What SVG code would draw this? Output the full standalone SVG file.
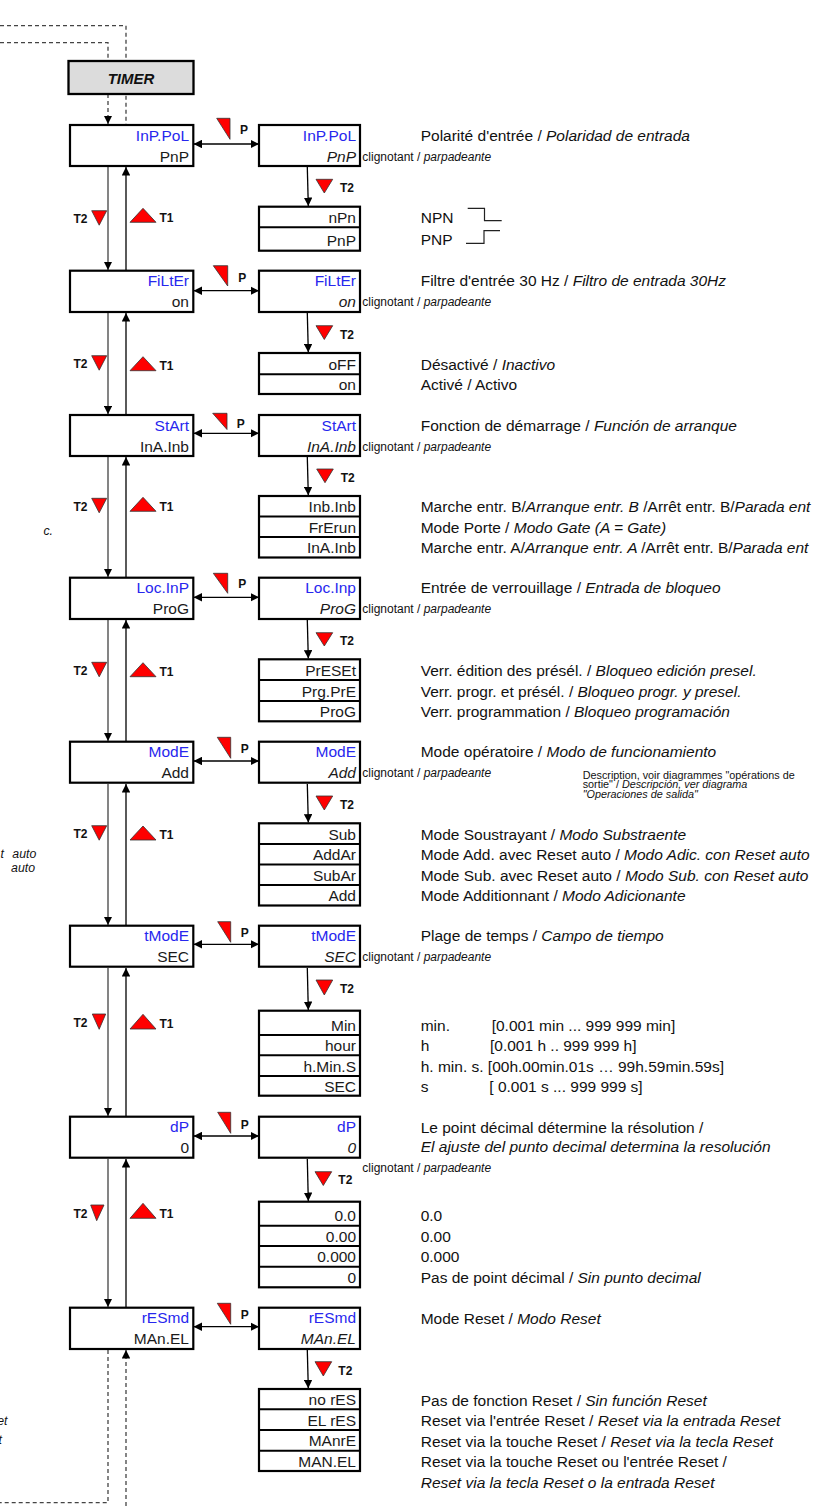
<svg xmlns="http://www.w3.org/2000/svg" width="823" height="1506" viewBox="0 0 823 1506">
<defs>
<marker id="ah" viewBox="0 0 10 10" refX="10" refY="5" markerWidth="8.5" markerHeight="8.5" markerUnits="userSpaceOnUse" orient="auto-start-reverse"><path d="M0,0 L10,5 L0,10 z" fill="#000"/></marker>
<style>
text{font-family:"Liberation Sans",Arial,Helvetica,sans-serif;}
.box{fill:#fff;stroke:#000;stroke-width:2.2;}
.div{stroke:#000;stroke-width:2;}
.lbl{font-size:15.5px;fill:#2727ee;text-anchor:end;}
.val{font-size:15.5px;fill:#1a1a1a;text-anchor:end;}
.it{font-style:italic;}
.desc{font-size:15.5px;fill:#111;}
.frag{font-size:12.3px;fill:#111;font-style:italic;}
.sm{font-size:12px;fill:#111;}
.xs{font-size:10.8px;fill:#111;}
.key{font-size:12px;font-weight:bold;fill:#111;}
.tri{fill:#ff0000;stroke:#333;stroke-width:0.8;stroke-linejoin:round;}
.dn{stroke:#505050;stroke-width:1.4;fill:none;}
.up{stroke:#000;stroke-width:1.3;fill:none;}
.hz{stroke:#000;stroke-width:1.3;fill:none;}
.dash{stroke:#444;stroke-width:1.3;stroke-dasharray:4 3;fill:none;}
.wave{stroke:#222;stroke-width:1.2;fill:none;}
</style>
</defs>
<rect width="823" height="1506" fill="#fff"/>

<g id="connectors">
<path class="dash" d="M0,25.7 H126 V124"/>
<path class="dash" d="M0,42.7 H108 V61"/>
<path class="dash" d="M108,94 V124" marker-end="url(#ah)"/>
<path class="dash" d="M108,1350 V1502.7 H0"/>
<path class="dash" d="M126,1506 V1350" marker-end="url(#ah)"/>

<line class="hz" x1="193.5" y1="144" x2="259" y2="144" marker-start="url(#ah)" marker-end="url(#ah)"/>
<line class="hz" x1="193.5" y1="290.7" x2="259" y2="290.7" marker-start="url(#ah)" marker-end="url(#ah)"/>
<line class="hz" x1="193.5" y1="433.3" x2="259" y2="433.3" marker-start="url(#ah)" marker-end="url(#ah)"/>
<line class="hz" x1="193.5" y1="597.3" x2="259" y2="597.3" marker-start="url(#ah)" marker-end="url(#ah)"/>
<line class="hz" x1="193.5" y1="761" x2="259" y2="761" marker-start="url(#ah)" marker-end="url(#ah)"/>
<line class="hz" x1="193.5" y1="944.3" x2="259" y2="944.3" marker-start="url(#ah)" marker-end="url(#ah)"/>
<line class="hz" x1="193.5" y1="1136" x2="259" y2="1136" marker-start="url(#ah)" marker-end="url(#ah)"/>
<line class="hz" x1="193.5" y1="1326.7" x2="259" y2="1326.7" marker-start="url(#ah)" marker-end="url(#ah)"/>

<polygon class="tri" points="216.7,118.3 230,118.3 230,139.3"/><text class="key" x="240" y="134.3">P</text>
<polygon class="tri" points="213.3,265.7 227.7,265.7 227.7,286"/><text class="key" x="238.3" y="281.7">P</text>
<polygon class="tri" points="212.7,413.3 227,413.3 227,429.5"/><text class="key" x="236.7" y="428">P</text>
<polygon class="tri" points="213.3,573.3 227.7,573.3 227.7,593.3"/><text class="key" x="238.3" y="588">P</text>
<polygon class="tri" points="217.3,737.3 230.7,737.3 230.7,758.3"/><text class="key" x="240.7" y="753.3">P</text>
<polygon class="tri" points="217.7,921.7 230.7,921.7 230.7,942.3"/><text class="key" x="240.7" y="936.7">P</text>
<polygon class="tri" points="217.7,1112.3 230.7,1112.3 230.7,1133.3"/><text class="key" x="240.7" y="1128.7">P</text>
<polygon class="tri" points="217.3,1303.3 230.7,1303.3 230.7,1324.3"/><text class="key" x="240.7" y="1319.3">P</text>

<line class="dn" x1="108" y1="167" x2="108" y2="270" marker-end="url(#ah)"/>
<line class="up" x1="126" y1="270" x2="126" y2="167" marker-end="url(#ah)"/>
<line class="dn" x1="108" y1="313" x2="108" y2="414.3" marker-end="url(#ah)"/>
<line class="up" x1="126" y1="414.3" x2="126" y2="313" marker-end="url(#ah)"/>
<line class="dn" x1="108" y1="457" x2="108" y2="577" marker-end="url(#ah)"/>
<line class="up" x1="126" y1="577" x2="126" y2="457" marker-end="url(#ah)"/>
<line class="dn" x1="108" y1="620" x2="108" y2="741" marker-end="url(#ah)"/>
<line class="up" x1="126" y1="741" x2="126" y2="620" marker-end="url(#ah)"/>
<line class="dn" x1="108" y1="784" x2="108" y2="925" marker-end="url(#ah)"/>
<line class="up" x1="126" y1="925" x2="126" y2="784" marker-end="url(#ah)"/>
<line class="dn" x1="108" y1="968" x2="108" y2="1116" marker-end="url(#ah)"/>
<line class="up" x1="126" y1="1116" x2="126" y2="968" marker-end="url(#ah)"/>
<line class="dn" x1="108" y1="1159" x2="108" y2="1307" marker-end="url(#ah)"/>
<line class="up" x1="126" y1="1307" x2="126" y2="1159" marker-end="url(#ah)"/>

<polygon class="tri" points="91.7,210.7 106.7,210.7 99.2,225.2"/><text class="key" x="87.5" y="223.3" text-anchor="end">T2</text>
<polygon class="tri" points="130,222.3 156,222.3 143,208.3"/><text class="key" x="159.5" y="221.7">T1</text>
<polygon class="tri" points="91.7,355.7 106.7,355.7 99.2,370.2"/><text class="key" x="87.5" y="368.2" text-anchor="end">T2</text>
<polygon class="tri" points="130,370.7 156,370.7 143,356.7"/><text class="key" x="159.5" y="370">T1</text>
<polygon class="tri" points="91.7,498.3 106.7,498.3 99.2,512.8"/><text class="key" x="87.5" y="510.8" text-anchor="end">T2</text>
<polygon class="tri" points="130,511.3 156,511.3 143,497.3"/><text class="key" x="159.5" y="510.6">T1</text>
<polygon class="tri" points="91.7,662.3 106.7,662.3 99.2,676.8"/><text class="key" x="87.5" y="674.8" text-anchor="end">T2</text>
<polygon class="tri" points="130,676.7 156,676.7 143,662.7"/><text class="key" x="159.5" y="676">T1</text>
<polygon class="tri" points="91.7,825.7 106.7,825.7 99.2,840.2"/><text class="key" x="87.5" y="838.2" text-anchor="end">T2</text>
<polygon class="tri" points="130,840 156,840 143,826"/><text class="key" x="159.5" y="839.3">T1</text>
<polygon class="tri" points="92.3,1014 105.7,1014 99.2,1029.3"/><text class="key" x="87.5" y="1026.5" text-anchor="end">T2</text>
<polygon class="tri" points="130,1029 156,1029 143,1014.3"/><text class="key" x="159.5" y="1028.3">T1</text>
<polygon class="tri" points="90.7,1205 104,1205 96.7,1220.7"/><text class="key" x="87.5" y="1217.5" text-anchor="end">T2</text>
<polygon class="tri" points="130,1218.3 156,1218.3 143,1203.3"/><text class="key" x="159.5" y="1217.6">T1</text>

<line class="hz" x1="307.3" y1="167" x2="308.3" y2="206" marker-end="url(#ah)"/>
<line class="hz" x1="307.3" y1="313" x2="308.3" y2="352.3" marker-end="url(#ah)"/>
<line class="hz" x1="307.3" y1="457" x2="308.3" y2="495.3" marker-end="url(#ah)"/>
<line class="hz" x1="307.3" y1="620" x2="308.3" y2="658.6" marker-end="url(#ah)"/>
<line class="hz" x1="307.3" y1="784" x2="308.3" y2="822.6" marker-end="url(#ah)"/>
<line class="hz" x1="307.3" y1="968" x2="308.3" y2="1010" marker-end="url(#ah)"/>
<line class="hz" x1="307.3" y1="1159" x2="308.3" y2="1201" marker-end="url(#ah)"/>
<line class="hz" x1="307.3" y1="1350" x2="308.3" y2="1388.3" marker-end="url(#ah)"/>

<polygon class="tri" points="316,179.3 332.7,179.3 324.3,193"/><text class="key" x="340" y="191.7">T2</text>
<polygon class="tri" points="316,325.7 332.7,325.7 324.3,339.5"/><text class="key" x="340" y="339">T2</text>
<polygon class="tri" points="316.7,469 333.3,469 325,482.7"/><text class="key" x="340.7" y="481.5">T2</text>
<polygon class="tri" points="316,632.7 332.7,632.7 324.3,646"/><text class="key" x="340" y="645">T2</text>
<polygon class="tri" points="316,796 332.7,796 324.3,810"/><text class="key" x="340" y="808.5">T2</text>
<polygon class="tri" points="316,980 332.7,980 324.3,995"/><text class="key" x="340" y="992.5">T2</text>
<polygon class="tri" points="315,1171.7 331.7,1171.7 323.3,1185.5"/><text class="key" x="338.3" y="1184">T2</text>
<polygon class="tri" points="315,1361.7 331.7,1361.7 323.3,1376"/><text class="key" x="338.3" y="1375">T2</text>
</g>

<g id="timer">
<rect x="68.5" y="61" width="125" height="33" fill="#dcdcdc" stroke="#000" stroke-width="2.3"/>
<text x="131" y="83.5" text-anchor="middle" font-size="15" font-weight="bold" font-style="italic" fill="#111">TIMER</text>
</g>

<g id="inppol">
<rect class="box" x="70" y="125" width="123.3" height="41"/>
<text class="lbl" x="189" y="140.5">InP.PoL</text><text class="val" x="189" y="161.5">PnP</text>
</g>
<g id="inppol-edit">
<rect class="box" x="259" y="125" width="101" height="41"/>
<text class="lbl" x="356" y="140.5">InP.PoL</text><text class="val it" x="356" y="161.5">PnP</text>
<text class="sm" x="362.3" y="160.5">clignotant / <tspan class="it">parpadeante</tspan></text>
<text class="desc" x="420.7" y="140.7">Polarité d'entrée / <tspan class="it">Polaridad de entrada</tspan></text>
</g>
<g id="inppol-list">
<rect class="box" x="259" y="206.7" width="101" height="44"/>
<line class="div" x1="259" y1="227.3" x2="360" y2="227.3"/>
<text class="val" x="356" y="222.8">nPn</text><text class="val" x="356" y="246.2">PnP</text>
<text class="desc" x="420.7" y="222.7">NPN</text><text class="desc" x="420.7" y="245">PNP</text>
<path class="wave" d="M467.7,208.3 H484.5 V220.7 H501.7"/>
<path class="wave" d="M466,243.3 H484 V230.7 H500"/>
</g>

<g id="filter">
<rect class="box" x="70" y="270.7" width="123.3" height="41.3"/>
<text class="lbl" x="189" y="286.2">FiLtEr</text><text class="val" x="189" y="307.2">on</text>
</g>
<g id="filter-edit">
<rect class="box" x="259" y="270.7" width="101" height="41.3"/>
<text class="lbl" x="356" y="286.2">FiLtEr</text><text class="val it" x="356" y="307.2">on</text>
<text class="sm" x="362.3" y="306.2">clignotant / <tspan class="it">parpadeante</tspan></text>
<text class="desc" x="420.7" y="286.4">Filtre d'entrée 30 Hz / <tspan class="it">Filtro de entrada 30Hz</tspan></text>
</g>
<g id="filter-list">
<rect class="box" x="259" y="353" width="101" height="41"/>
<line class="div" x1="259" y1="374.3" x2="360" y2="374.3"/>
<text class="val" x="356" y="369.8">oFF</text><text class="val" x="356" y="389.5">on</text>
<text class="desc" x="420.7" y="369.8">Désactivé / <tspan class="it">Inactivo</tspan></text>
<text class="desc" x="420.7" y="389.5">Activé / Activo</text>
</g>

<g id="start">
<rect class="box" x="70" y="415" width="123.3" height="41"/>
<text class="lbl" x="189" y="430.5">StArt</text><text class="val" x="189" y="451.5">InA.Inb</text>
</g>
<g id="start-edit">
<rect class="box" x="259" y="415" width="101" height="41"/>
<text class="lbl" x="356" y="430.5">StArt</text><text class="val it" x="356" y="451.5">InA.Inb</text>
<text class="sm" x="362.3" y="450.5">clignotant / <tspan class="it">parpadeante</tspan></text>
<text class="desc" x="420.7" y="430.7">Fonction de démarrage / <tspan class="it">Función de arranque</tspan></text>
</g>
<g id="start-list">
<rect class="box" x="259" y="496" width="101" height="61.5"/>
<line class="div" x1="259" y1="516.5" x2="360" y2="516.5"/>
<line class="div" x1="259" y1="537" x2="360" y2="537"/>
<text class="val" x="356" y="512">Inb.Inb</text><text class="val" x="356" y="532.5">FrErun</text><text class="val" x="356" y="553">InA.Inb</text>
<text class="desc" x="420.7" y="512">Marche entr. B/<tspan class="it">Arranque entr. B </tspan>/Arrêt entr. B/<tspan class="it">Parada  ent</tspan></text>
<text class="desc" x="420.7" y="532.5">Mode Porte / <tspan class="it">Modo Gate (A = Gate)</tspan></text>
<text class="desc" x="420.7" y="553">Marche entr. A/<tspan class="it">Arranque entr. A </tspan>/Arrêt entr. B/<tspan class="it">Parada  ent</tspan></text>
</g>

<g id="locinp">
<rect class="box" x="70" y="577.7" width="123.3" height="41.3"/>
<text class="lbl" x="189" y="593.2">Loc.InP</text><text class="val" x="189" y="614.2">ProG</text>
</g>
<g id="locinp-edit">
<rect class="box" x="259" y="577.7" width="101" height="41.3"/>
<text class="lbl" x="356" y="593.2">Loc.Inp</text><text class="val it" x="356" y="614.2">ProG</text>
<text class="sm" x="362.3" y="613.2">clignotant / <tspan class="it">parpadeante</tspan></text>
<text class="desc" x="420.7" y="593.4">Entrée de verrouillage / <tspan class="it">Entrada de bloqueo</tspan></text>
</g>
<g id="locinp-list">
<rect class="box" x="259" y="659.3" width="101" height="62"/>
<line class="div" x1="259" y1="680" x2="360" y2="680"/>
<line class="div" x1="259" y1="701" x2="360" y2="701"/>
<text class="val" x="356" y="675.5">PrESEt</text><text class="val" x="356" y="696.5">Prg.PrE</text><text class="val" x="356" y="717">ProG</text>
<text class="desc" x="420.7" y="675.5">Verr. édition des présél. / <tspan class="it">Bloqueo edición presel.</tspan></text>
<text class="desc" x="420.7" y="696.5">Verr. progr. et présél. / <tspan class="it">Bloqueo progr. y presel.</tspan></text>
<text class="desc" x="420.7" y="717">Verr. programmation / <tspan class="it">Bloqueo programación</tspan></text>
</g>

<g id="mode">
<rect class="box" x="70" y="741.7" width="123.3" height="41"/>
<text class="lbl" x="189" y="757.2">ModE</text><text class="val" x="189" y="778.2">Add</text>
</g>
<g id="mode-edit">
<rect class="box" x="259" y="741.7" width="101" height="41"/>
<text class="lbl" x="356" y="757.2">ModE</text><text class="val it" x="356" y="778.2">Add</text>
<text class="sm" x="362.3" y="777.2">clignotant / <tspan class="it">parpadeante</tspan></text>
<text class="desc" x="420.7" y="757.4">Mode opératoire / <tspan class="it">Modo de funcionamiento</tspan></text>
<text class="xs" x="582.7" y="778.5">Description, voir diagrammes  "opérations de</text>
<text class="xs" x="582.7" y="788.3">sortie" / <tspan class="it">Descripción, ver diagrama</tspan></text>
<text class="xs it" x="582.7" y="798.1">"Operaciones de salida"</text>
</g>
<g id="mode-list">
<rect class="box" x="259" y="823.3" width="101" height="82.2"/>
<line class="div" x1="259" y1="844" x2="360" y2="844"/>
<line class="div" x1="259" y1="864.5" x2="360" y2="864.5"/>
<line class="div" x1="259" y1="885" x2="360" y2="885"/>
<text class="val" x="356" y="839.5">Sub</text><text class="val" x="356" y="860">AddAr</text><text class="val" x="356" y="880.5">SubAr</text><text class="val" x="356" y="901">Add</text>
<text class="desc" x="420.7" y="839.5">Mode Soustrayant / <tspan class="it">Modo Substraente</tspan></text>
<text class="desc" x="420.7" y="860">Mode Add. avec Reset auto / <tspan class="it">Modo Adic. con Reset auto</tspan></text>
<text class="desc" x="420.7" y="880.5">Mode Sub. avec Reset auto / <tspan class="it">Modo Sub. con Reset auto</tspan></text>
<text class="desc" x="420.7" y="901">Mode Additionnant / <tspan class="it">Modo Adicionante</tspan></text>
</g>

<g id="tmode">
<rect class="box" x="70" y="925.7" width="123.3" height="41"/>
<text class="lbl" x="189" y="941.2">tModE</text><text class="val" x="189" y="962.2">SEC</text>
</g>
<g id="tmode-edit">
<rect class="box" x="259" y="925.7" width="101" height="41"/>
<text class="lbl" x="356" y="941.2">tModE</text><text class="val it" x="356" y="962.2">SEC</text>
<text class="sm" x="362.3" y="961.2">clignotant / <tspan class="it">parpadeante</tspan></text>
<text class="desc" x="420.7" y="941.4">Plage de temps / <tspan class="it">Campo de tiempo</tspan></text>
</g>
<g id="tmode-list">
<rect class="box" x="259" y="1010.7" width="101" height="85"/>
<line class="div" x1="259" y1="1035" x2="360" y2="1035"/>
<line class="div" x1="259" y1="1055.3" x2="360" y2="1055.3"/>
<line class="div" x1="259" y1="1076" x2="360" y2="1076"/>
<text class="val" x="356" y="1030.5">Min</text><text class="val" x="356" y="1051">hour</text><text class="val" x="356" y="1071.5">h.Min.S</text><text class="val" x="356" y="1091.5">SEC</text>
<text class="desc" x="420.7" y="1031">min.</text><text class="desc" x="491.7" y="1031">[0.001 min ... 999 999 min]</text>
<text class="desc" x="420.7" y="1051.3">h</text><text class="desc" x="490" y="1051.3">[0.001 h .. 999 999 h]</text>
<text class="desc" x="420.7" y="1071.8">h. min. s. [00h.00min.01s … 99h.59min.59s]</text>
<text class="desc" x="420.7" y="1092">s</text><text class="desc" x="489.3" y="1092">[ 0.001 s ... 999 999 s]</text>
</g>

<g id="dp">
<rect class="box" x="70" y="1116.7" width="123.3" height="41"/>
<text class="lbl" x="189" y="1132.2">dP</text><text class="val" x="189" y="1153.2">0</text>
</g>
<g id="dp-edit">
<rect class="box" x="259" y="1116.7" width="101" height="41"/>
<text class="lbl" x="356" y="1132.2">dP</text><text class="val it" x="356" y="1153.2">0</text>
<text class="sm" x="362.3" y="1172">clignotant / <tspan class="it">parpadeante</tspan></text>
<text class="desc" x="420.7" y="1133">Le point décimal détermine la résolution /</text>
<text class="desc it" x="420.7" y="1152.3">El ajuste del punto decimal determina la resolución</text>
</g>
<g id="dp-list">
<rect class="box" x="259" y="1201.7" width="101" height="85.6"/>
<line class="div" x1="259" y1="1225.7" x2="360" y2="1225.7"/>
<line class="div" x1="259" y1="1246" x2="360" y2="1246"/>
<line class="div" x1="259" y1="1266.7" x2="360" y2="1266.7"/>
<text class="val" x="356" y="1221.2">0.0</text><text class="val" x="356" y="1241.5">0.00</text><text class="val" x="356" y="1262.2">0.000</text><text class="val" x="356" y="1282.8">0</text>
<text class="desc" x="420.7" y="1221.2">0.0</text>
<text class="desc" x="420.7" y="1241.5">0.00</text>
<text class="desc" x="420.7" y="1262.2">0.000</text>
<text class="desc" x="420.7" y="1282.8">Pas de point décimal / <tspan class="it">Sin punto decimal</tspan></text>
</g>

<g id="resmd">
<rect class="box" x="70" y="1307.7" width="123.3" height="41.3"/>
<text class="lbl" x="189" y="1323.2">rESmd</text><text class="val" x="189" y="1344.2">MAn.EL</text>
</g>
<g id="resmd-edit">
<rect class="box" x="259" y="1307.7" width="101" height="41.3"/>
<text class="lbl" x="356" y="1323.2">rESmd</text><text class="val it" x="356" y="1344.2">MAn.EL</text>
<text class="desc" x="420.7" y="1323.5">Mode Reset / <tspan class="it">Modo Reset</tspan></text>
</g>
<g id="resmd-list">
<rect class="box" x="259" y="1389" width="101" height="82"/>
<line class="div" x1="259" y1="1409.3" x2="360" y2="1409.3"/>
<line class="div" x1="259" y1="1430" x2="360" y2="1430"/>
<line class="div" x1="259" y1="1450.7" x2="360" y2="1450.7"/>
<text class="val" x="356" y="1405">no rES</text><text class="val" x="356" y="1425.5">EL rES</text><text class="val" x="356" y="1446">MAnrE</text><text class="val" x="356" y="1466.5">MAN.EL</text>
<text class="desc" x="420.7" y="1406">Pas de fonction Reset / <tspan class="it">Sin función Reset</tspan></text>
<text class="desc" x="420.7" y="1426.3">Reset via l'entrée Reset / <tspan class="it">Reset via la entrada Reset</tspan></text>
<text class="desc" x="420.7" y="1446.7">Reset via la touche Reset / <tspan class="it">Reset via la tecla Reset</tspan></text>
<text class="desc" x="420.7" y="1467">Reset via la touche Reset ou l'entrée Reset /</text>
<text class="desc it" x="420.7" y="1487.5">Reset via la tecla Reset o la entrada Reset</text>
</g>

<g id="edge-fragments">
<text class="frag" x="53" y="535" text-anchor="end">c.</text>
<text class="frag" x="0.5" y="858" word-spacing="5">t auto</text>
<text class="frag" x="35" y="871.5" text-anchor="end">auto</text>
<text class="frag" x="7.5" y="1425" text-anchor="end">et</text>
<text class="frag" x="2" y="1444" text-anchor="end">t</text>
</g>
</svg>
